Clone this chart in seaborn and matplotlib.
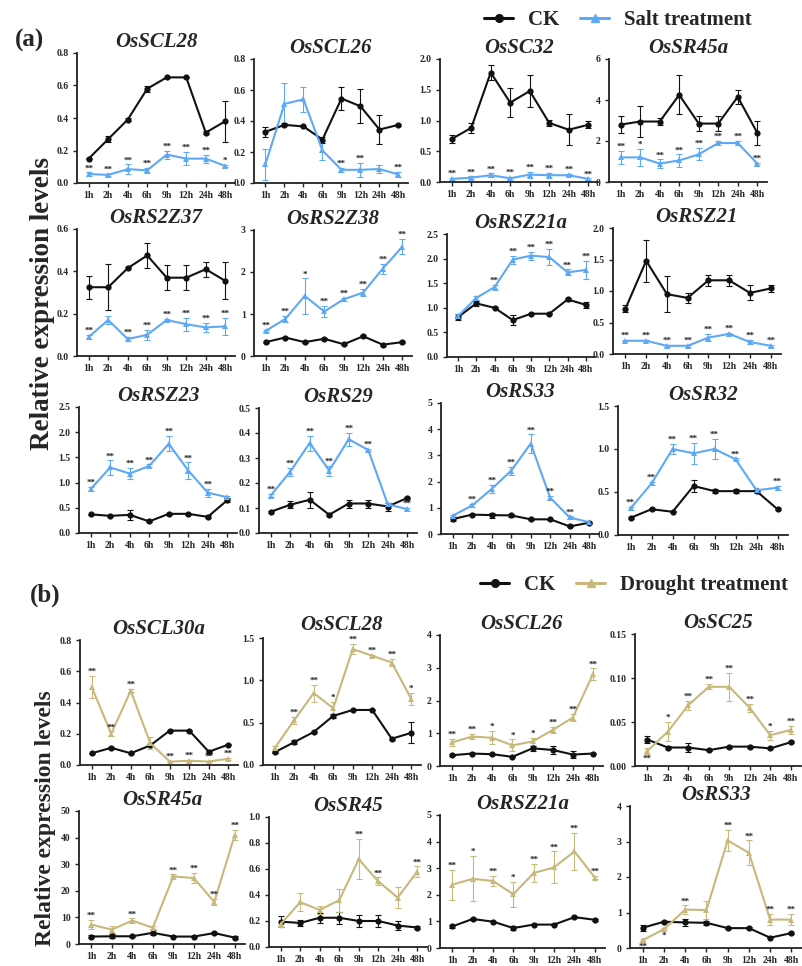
import numpy as np
import pandas as pd
import matplotlib.pyplot as plt
import seaborn as sns
from matplotlib.lines import Line2D

sns.set_style("ticks")
plt.rcParams['font.family'] = ['Liberation Serif', 'DejaVu Serif']
plt.rcParams['font.weight'] = 'bold'

hours = ["1h", "2h", "4h", "6h", "9h", "12h", "24h", "48h"]

# ---- (a) salt treatment ----
a1_ck = [0.15, 0.27, 0.39, 0.58, 0.65, 0.65, 0.31, 0.38]
a1_ck_err = [0.005, 0.02, 0.01, 0.02, 0.005, 0.005, 0.01, 0.125]
a1_tr = [0.055, 0.05, 0.085, 0.078, 0.175, 0.15, 0.15, 0.105]
a1_tr_err = [0.01, 0.008, 0.03, 0.015, 0.025, 0.04, 0.025, 0.008]
a1_sig = ["**", "**", "**", "**", "**", "**", "**", "*"]

a2_ck = [0.33, 0.375, 0.365, 0.28, 0.545, 0.495, 0.345, 0.375]
a2_ck_err = [0.03, 0.01, 0.005, 0.02, 0.075, 0.11, 0.095, 0.005]
a2_tr = [0.12, 0.51, 0.54, 0.21, 0.085, 0.085, 0.09, 0.055]
a2_tr_err = [0.1, 0.135, 0.08, 0.06, 0.012, 0.045, 0.025, 0.015]
a2_sig = ["", "", "", "", "**", "**", "", "**"]

a3_ck = [0.70, 0.88, 1.78, 1.29, 1.48, 0.96, 0.85, 0.93]
a3_ck_err = [0.06, 0.08, 0.12, 0.24, 0.26, 0.05, 0.25, 0.06]
a3_tr = [0.05, 0.07, 0.11, 0.06, 0.12, 0.11, 0.11, 0.05]
a3_tr_err = [0.02, 0.02, 0.03, 0.02, 0.05, 0.04, 0.02, 0.01]
a3_sig = ["**"] * 8

a4_ck = [2.8, 2.95, 2.95, 4.25, 2.85, 2.85, 4.15, 2.4]
a4_ck_err = [0.4, 0.75, 0.15, 0.95, 0.35, 0.35, 0.35, 0.58]
a4_tr = [1.2, 1.2, 0.9, 1.05, 1.35, 1.9, 1.9, 0.9]
a4_tr_err = [0.3, 0.4, 0.2, 0.3, 0.3, 0.1, 0.1, 0.05]
a4_sig = ["**", "*", "**", "**", "**", "**", "**", "**"]

a5_ck = [0.325, 0.325, 0.415, 0.475, 0.37, 0.37, 0.41, 0.355]
a5_ck_err = [0.055, 0.11, 0.005, 0.06, 0.06, 0.06, 0.035, 0.087]
a5_tr = [0.09, 0.17, 0.08, 0.10, 0.17, 0.15, 0.135, 0.14]
a5_tr_err = [0.01, 0.02, 0.01, 0.025, 0.005, 0.03, 0.02, 0.04]
a5_sig = ["**", "", "**", "**", "**", "**", "**", "**"]

a6_ck = [0.33, 0.44, 0.33, 0.41, 0.28, 0.47, 0.27, 0.33]
a6_ck_err = [0.02, 0.02, 0.02, 0.02, 0.02, 0.02, 0.02, 0.02]
a6_tr = [0.6, 0.88, 1.43, 1.06, 1.35, 1.51, 2.08, 2.6]
a6_tr_err = [0.03, 0.07, 0.42, 0.13, 0.04, 0.08, 0.12, 0.18]
a6_sig = ["**", "**", "*", "**", "**", "**", "**", "**"]

a7_ck = [0.81, 1.09, 1.0, 0.75, 0.88, 0.88, 1.17, 1.06]
a7_ck_err = [0.06, 0.05, 0.01, 0.1, 0.01, 0.01, 0.03, 0.06]
a7_tr = [0.83, 1.2, 1.42, 1.98, 2.06, 2.03, 1.72, 1.77]
a7_tr_err = [0.05, 0.04, 0.05, 0.08, 0.08, 0.17, 0.06, 0.18]
a7_sig = ["", "", "**", "**", "**", "**", "**", "**"]

a8_ck = [0.72, 1.48, 0.95, 0.89, 1.17, 1.17, 0.97, 1.04]
a8_ck_err = [0.05, 0.33, 0.29, 0.08, 0.09, 0.09, 0.12, 0.06]
a8_tr = [0.21, 0.21, 0.13, 0.13, 0.26, 0.32, 0.19, 0.13]
a8_tr_err = [0.01, 0.01, 0.02, 0.02, 0.06, 0.01, 0.03, 0.02]
a8_sig = ["**"] * 8

a9_ck = [0.37, 0.34, 0.36, 0.23, 0.38, 0.38, 0.32, 0.65]
a9_ck_err = [0.01, 0.02, 0.1, 0.01, 0.02, 0.02, 0.03, 0.04]
a9_tr = [0.87, 1.3, 1.18, 1.33, 1.77, 1.24, 0.80, 0.71]
a9_tr_err = [0.04, 0.14, 0.11, 0.03, 0.15, 0.16, 0.08, 0.03]
a9_sig = ["**", "**", "**", "**", "**", "**", "**", ""]

a10_ck = [0.085, 0.113, 0.133, 0.073, 0.118, 0.118, 0.106, 0.14]
a10_ck_err = [0.003, 0.014, 0.032, 0.005, 0.016, 0.016, 0.016, 0.003]
a10_tr = [0.15, 0.245, 0.36, 0.25, 0.375, 0.332, 0.115, 0.095]
a10_tr_err = [0.005, 0.015, 0.03, 0.02, 0.025, 0.005, 0.005, 0.005]
a10_sig = ["**", "**", "**", "**", "**", "**", "", "**"]

a11_ck = [0.57, 0.74, 0.72, 0.71, 0.56, 0.56, 0.29, 0.43]
a11_ck_err = [0.07, 0.03, 0.1, 0.05, 0.02, 0.02, 0.02, 0.03]
a11_tr = [0.7, 1.09, 1.72, 2.42, 3.45, 1.38, 0.63, 0.45]
a11_tr_err = [0.04, 0.07, 0.15, 0.15, 0.35, 0.07, 0.04, 0.03]
a11_sig = ["", "**", "**", "**", "**", "**", "**", ""]

a12_ck = [0.2, 0.3, 0.27, 0.57, 0.51, 0.51, 0.51, 0.3]
a12_ck_err = [0.015, 0.015, 0.005, 0.07, 0.02, 0.02, 0.02, 0.01]
a12_tr = [0.31, 0.6, 1.0, 0.95, 1.0, 0.88, 0.52, 0.55]
a12_tr_err = [0.015, 0.015, 0.06, 0.12, 0.12, 0.01, 0.01, 0.025]
a12_sig = ["**", "**", "**", "**", "**", "**", "", "**"]

# ---- (b) drought treatment ----
b1_ck = [0.075, 0.11, 0.075, 0.125, 0.22, 0.22, 0.085, 0.13]
b1_ck_err = [0.005] * 8
b1_tr = [0.5, 0.2, 0.475, 0.14, 0.022, 0.027, 0.022, 0.04]
b1_tr_err = [0.07, 0.015, 0.01, 0.04, 0.005, 0.005, 0.005, 0.008]
b1_sig = ["**", "**", "**", "", "**", "**", "**", "**"]

b2_ck = [0.15, 0.27, 0.39, 0.58, 0.65, 0.65, 0.31, 0.38]
b2_ck_err = [0.005, 0.02, 0.01, 0.02, 0.005, 0.005, 0.01, 0.125]
b2_tr = [0.2, 0.53, 0.85, 0.67, 1.37, 1.29, 1.21, 0.78]
b2_tr_err = [0.03, 0.04, 0.1, 0.08, 0.06, 0.015, 0.04, 0.07]
b2_sig = ["", "**", "**", "*", "**", "**", "**", "*"]

b3_ck = [0.33, 0.38, 0.36, 0.28, 0.54, 0.49, 0.35, 0.38]
b3_ck_err = [0.03, 0.02, 0.02, 0.02, 0.07, 0.11, 0.1, 0.02]
b3_tr = [0.72, 0.9, 0.86, 0.63, 0.75, 1.1, 1.48, 2.8]
b3_tr_err = [0.1, 0.08, 0.2, 0.18, 0.12, 0.1, 0.12, 0.18]
b3_sig = ["**", "**", "*", "*", "*", "**", "**", "**"]

b4_ck = [0.030, 0.021, 0.021, 0.018, 0.022, 0.022, 0.020, 0.027]
b4_ck_err = [0.004, 0.002, 0.005, 0.001, 0.001, 0.001, 0.001, 0.001]
b4_tr = [0.017, 0.039, 0.069, 0.090, 0.090, 0.066, 0.035, 0.041]
b4_tr_err = [0.003, 0.011, 0.005, 0.003, 0.016, 0.005, 0.005, 0.005]
b4_sig = ["**", "*", "**", "**", "**", "**", "*", "**"]

b5_ck = [2.8, 2.9, 2.9, 4.2, 2.8, 2.8, 4.1, 2.4]
b5_ck_err = [0.4, 0.7, 0.2, 0.9, 0.3, 0.3, 0.4, 0.5]
b5_tr = [7.3, 5.4, 8.8, 6.1, 25.4, 24.8, 15.8, 41.0]
b5_tr_err = [1.7, 1.3, 0.8, 0.5, 0.8, 1.8, 1.3, 1.8]
b5_sig = ["**", "", "**", "", "**", "**", "**", "**"]

b6_ck = [0.195, 0.185, 0.225, 0.225, 0.2, 0.2, 0.165, 0.15]
b6_ck_err = [0.04, 0.02, 0.04, 0.045, 0.045, 0.045, 0.035, 0.01]
b6_tr = [0.175, 0.345, 0.285, 0.36, 0.675, 0.505, 0.38, 0.58]
b6_tr_err = [0.02, 0.07, 0.03, 0.09, 0.155, 0.03, 0.08, 0.04]
b6_sig = ["", "", "", "", "**", "**", "", "**"]

b7_ck = [0.81, 1.09, 0.99, 0.75, 0.88, 0.88, 1.16, 1.06]
b7_ck_err = [0.05, 0.03, 0.03, 0.08, 0.02, 0.02, 0.03, 0.04]
b7_tr = [2.38, 2.6, 2.52, 2.02, 2.82, 3.03, 3.63, 2.65]
b7_tr_err = [0.57, 0.85, 0.18, 0.47, 0.35, 0.6, 0.7, 0.05]
b7_sig = ["**", "*", "**", "*", "**", "**", "**", "**"]

b8_ck = [0.57, 0.74, 0.72, 0.71, 0.56, 0.56, 0.29, 0.42]
b8_ck_err = [0.08, 0.03, 0.1, 0.05, 0.02, 0.02, 0.02, 0.02]
b8_tr = [0.22, 0.53, 1.08, 1.07, 3.03, 2.68, 0.80, 0.80]
b8_tr_err = [0.03, 0.03, 0.12, 0.25, 0.3, 0.35, 0.15, 0.15]
b8_sig = ["**", "*", "**", "", "**", "**", "**", "**"]

CK_COLOR = "#111111"
SALT = "#5EA8F4"
DROUGHT = "#C8B87C"

W, H = 803, 966
fig = plt.figure(figsize=(W / 100, H / 100), dpi=100)


def box(left, top, bottom, width=158):
    return [left / W, 1 - bottom / H, width / W, (bottom - top) / H]


def draw(rect, title, ck, ck_err, tr, tr_err, sig, color, ymax, step, below=(), pad=4):
    ax = fig.add_axes(rect)
    x = np.arange(len(hours))
    df = pd.DataFrame({"x": np.r_[x, x], "y": np.r_[ck, tr],
                       "g": ["CK"] * len(x) + ["T"] * len(x)})
    ax.errorbar(x, ck, yerr=ck_err, fmt="none", ecolor=CK_COLOR,
                elinewidth=0.8, capsize=2.2, capthick=0.8)
    ax.errorbar(x, tr, yerr=tr_err, fmt="none", ecolor=color,
                elinewidth=0.8, capsize=2.2, capthick=0.8)
    sns.lineplot(data=df, x="x", y="y", hue="g", style="g",
                 palette=[CK_COLOR, color], markers=["o", "^"], dashes=False,
                 markersize=4.5, markeredgewidth=0, linewidth=1.5,
                 legend=False, ax=ax)
    for i, s in enumerate(sig):
        if not s:
            continue
        if i in below:
            ax.annotate(s, (i, tr[i] - tr_err[i]), xytext=(0, -1),
                        textcoords="offset points", ha="center", va="top",
                        fontsize=6.5, color="#222222")
        else:
            ax.annotate(s, (i, tr[i] + tr_err[i]), xytext=(0, 0),
                        textcoords="offset points", ha="center", va="bottom",
                        fontsize=6.5, color="#222222")
    ax.set_xlim(-0.6, 7.5)
    ax.set_ylim(0, ymax)
    ax.set_yticks(np.arange(0, ymax + step / 2, step))
    ax.set_xticks(x)
    ax.set_xticklabels(hours)
    ax.set_xlabel("")
    ax.set_ylabel("")
    ax.tick_params(labelsize=7, length=3, width=1, pad=3)
    for sp in ("top", "right"):
        ax.spines[sp].set_visible(False)
    for sp in ("left", "bottom"):
        ax.spines[sp].set_linewidth(1.3)
        ax.spines[sp].set_color("#222222")
    ax.set_title(title, fontsize=15, fontweight="bold", style="italic", pad=pad)
    return ax


# panel (a)
draw(box(77, 53, 183), "OsSCL28", a1_ck, a1_ck_err, a1_tr, a1_tr_err, a1_sig, SALT, 0.8, 0.2)
draw(box(254, 59, 183, 154), "OsSCL26", a2_ck, a2_ck_err, a2_tr, a2_tr_err, a2_sig, SALT, 0.8, 0.2)
draw(box(440, 59, 182), "OsSC32", a3_ck, a3_ck_err, a3_tr, a3_tr_err, a3_sig, SALT, 2.0, 0.5)
draw(box(609, 59, 182), "OsSR45a", a4_ck, a4_ck_err, a4_tr, a4_tr_err, a4_sig, SALT, 6, 2)

draw(box(77, 229, 356), "OsRS2Z37", a5_ck, a5_ck_err, a5_tr, a5_tr_err, a5_sig, SALT, 0.6, 0.2)
draw(box(254, 230, 356), "OsRS2Z38", a6_ck, a6_ck_err, a6_tr, a6_tr_err, a6_sig, SALT, 3, 1)
draw(box(447, 234, 357, 148), "OsRSZ21a", a7_ck, a7_ck_err, a7_tr, a7_tr_err, a7_sig, SALT, 2.5, 0.5)
draw(box(613, 228, 354, 168), "OsRSZ21", a8_ck, a8_ck_err, a8_tr, a8_tr_err, a8_sig, SALT, 2.0, 0.5)

draw(box(79, 407, 533), "OsRSZ23", a9_ck, a9_ck_err, a9_tr, a9_tr_err, a9_sig, SALT, 2.5, 0.5)
draw(box(259, 408, 533), "OsRS29", a10_ck, a10_ck_err, a10_tr, a10_tr_err, a10_sig, SALT, 0.5, 0.1)
draw(box(441, 403, 534), "OsRS33", a11_ck, a11_ck_err, a11_tr, a11_tr_err, a11_sig, SALT, 5, 1)
draw(box(618, 406, 535, 170), "OsSR32", a12_ck, a12_ck_err, a12_tr, a12_tr_err, a12_sig, SALT, 1.5, 0.5)

# panel (b)
draw(box(80, 640, 765), "OsSCL30a", b1_ck, b1_ck_err, b1_tr, b1_tr_err, b1_sig, DROUGHT, 0.8, 0.2)
draw(box(263, 638, 765), "OsSCL28", b2_ck, b2_ck_err, b2_tr, b2_tr_err, b2_sig, DROUGHT, 1.5, 0.5, pad=6)
draw(box(440, 635, 766, 163), "OsSCL26", b3_ck, b3_ck_err, b3_tr, b3_tr_err, b3_sig, DROUGHT, 4, 1)
draw(box(635, 634, 766, 166), "OsSC25", b4_ck, b4_ck_err, b4_tr, b4_tr_err, b4_sig, DROUGHT, 0.15, 0.05, below=(0,))

draw(box(79, 811, 944, 166), "OsSR45a", b5_ck, b5_ck_err, b5_tr, b5_tr_err, b5_sig, DROUGHT, 50, 10)
draw(box(269, 817, 947), "OsSR45", b6_ck, b6_ck_err, b6_tr, b6_tr_err, b6_sig, DROUGHT, 1.0, 0.2)
draw(box(440, 815, 948, 165), "OsRSZ21a", b7_ck, b7_ck_err, b7_tr, b7_tr_err, b7_sig, DROUGHT, 5, 1)
draw(box(630, 806, 948, 172), "OsRS33", b8_ck, b8_ck_err, b8_tr, b8_tr_err, b8_sig, DROUGHT, 4, 1, below=(0, 1))

# legends, panel letters, shared y labels
def handles(color, label):
    return [Line2D([], [], color=CK_COLOR, marker="o", markersize=5.5, lw=2.2, label="CK"),
            Line2D([], [], color=color, marker="^", markersize=5.5, lw=2.2, label=label)]

fig.legend(handles=handles(SALT, "Salt treatment"), loc="center",
           bbox_to_anchor=(618 / W, 1 - 20 / H), ncol=2, frameon=False,
           fontsize=15, handlelength=1.4, columnspacing=1.0, handletextpad=0.7)
fig.legend(handles=handles(DROUGHT, "Drought treatment"), loc="center",
           bbox_to_anchor=(634 / W, 1 - 585 / H), ncol=2, frameon=False,
           fontsize=15, handlelength=1.4, columnspacing=1.0, handletextpad=0.7)

fig.text(30 / W, 1 - 40 / H, "(a)", fontsize=18, fontweight="bold", ha="center", va="center")
fig.text(45 / W, 1 - 595 / H, "(b)", fontsize=18, fontweight="bold", ha="center", va="center")
fig.text(43 / W, 1 - 303 / H, "Relative expression levels", rotation=90,
         fontsize=19.5, fontweight="bold", ha="center", va="center")
fig.text(46 / W, 1 - 818 / H, "Relative expression levels", rotation=90,
         fontsize=17, fontweight="bold", ha="center", va="center")

fig.savefig("out.png", dpi=100)
